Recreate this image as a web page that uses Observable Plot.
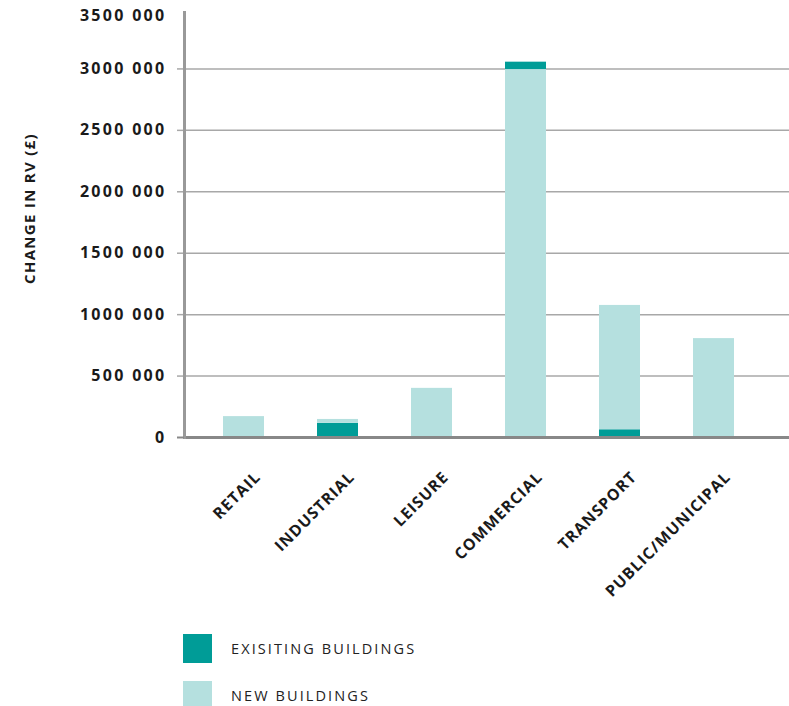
<!DOCTYPE html>
<html>
<head>
<meta charset="utf-8">
<script src="https://cdn.jsdelivr.net/npm/d3@7"></script>
<script src="https://cdn.jsdelivr.net/npm/@observablehq/plot@0.6"></script>
<style>
  body { margin: 0; background: #fff; font-family: "Open Sans", sans-serif; }
  #chart svg { display: block; }
  g[aria-label="x-axis tick label"] text { letter-spacing: 1px; }
  g[aria-label="y-axis tick label"] text { letter-spacing: 2.3px; }
  g.ytitle text { letter-spacing: 1.3px; }
  .legend { padding-left: 183px; padding-top: 24px; }
  .row { display: flex; align-items: center; height: 29px; margin-bottom: 18px; }
  .sw { width: 29px; height: 29px; margin-right: 19px; }
  .lab { font-size: 14.5px; letter-spacing: 2.1px; color: #222; }
</style>
</head>
<body>
<div id="chart"></div>
<div class="legend" id="legend"></div>
<script>
const categories = ["RETAIL", "INDUSTRIAL", "LEISURE", "COMMERCIAL", "TRANSPORT", "PUBLIC/MUNICIPAL"];
const existingBuildings = [0, 115000, 0, 60000, 63000, 0];
const newBuildings = [170000, 32000, 400000, 2995000, 1012000, 805000];
const existingOnTop = [false, false, false, true, false, false];
const seriesNames = ["EXISITING BUILDINGS", "NEW BUILDINGS"];
const seriesColors = ["#009C97", "#B5E0DF"];
const yTicks = [0, 500000, 1000000, 1500000, 2000000, 2500000, 3000000];
const yTickLabels = ["0", "500 000", "1000 000", "1500 000", "2000 000", "2500 000", "3000 000"];
const yTopTick = [3500000];
const yTopLabel = "3500 000";
const gridTicks = [500000, 1000000, 1500000, 2000000, 2500000, 3000000];
const yTitle = "CHANGE IN RV (£)";

const data = [];
categories.forEach((c, i) => {
  const ex = {category: c, series: seriesNames[0], value: existingBuildings[i]};
  const nw = {category: c, series: seriesNames[1], value: newBuildings[i]};
  if (existingOnTop[i]) data.push(nw, ex); else data.push(ex, nw);
});

const tickStyle = {tickSize: 0, tickPadding: 18, fontSize: 16, fontWeight: "bold", label: null};

const chart = Plot.plot({
  width: 789,
  height: 610,
  marginLeft: 184,
  marginRight: 0,
  marginTop: 7,
  marginBottom: 173,
  style: {fontFamily: "'Open Sans', sans-serif", color: "#1a1a1a"},
  x: {type: "band", domain: categories, range: [223, 734], paddingInner: 0.564, paddingOuter: 0},
  y: {domain: [0, 3500000]},
  color: {domain: seriesNames, range: seriesColors},
  marks: [
    Plot.ruleY(gridTicks, {stroke: "#a8a8a8", strokeWidth: 1.5}),
    Plot.barY(data, {x: "category", y: "value", fill: "series"}),
    Plot.axisY({ticks: gridTicks, tickSize: 7, tickFormat: () => "", stroke: "#a8a8a8", strokeWidth: 1.5, label: null}),
    Plot.ruleY([0], {stroke: "#888", strokeWidth: 3}),
    Plot.frame({anchor: "left", stroke: "#999", strokeWidth: 3, insetTop: 5}),
    Plot.axisY({ticks: [0], tickSize: 7, tickFormat: () => "", stroke: "#888", strokeWidth: 2, label: null}),
    Plot.axisY({...tickStyle, ticks: yTicks, tickFormat: (d) => yTickLabels[yTicks.indexOf(d)]}),
    Plot.axisY({...tickStyle, ticks: yTopTick, tickFormat: () => yTopLabel, dy: 8}),
    Plot.axisX({tickSize: 0, tickRotate: -45, tickPadding: 30, dx: 14, dy: 7, fontSize: 15.8, fontWeight: "bold", label: null}),
    Plot.text([yTitle], {frameAnchor: "left", rotate: -90, textAnchor: "middle", dx: -154, dy: -14, fontSize: 15, fontWeight: "bold", fill: "#1a1a1a", className: "ytitle"})
  ]
});
document.getElementById("chart").appendChild(chart);

const legend = document.getElementById("legend");
seriesNames.forEach((name, i) => {
  const row = document.createElement("div");
  row.className = "row";
  const sw = document.createElement("div");
  sw.className = "sw";
  sw.style.background = seriesColors[i];
  const lab = document.createElement("span");
  lab.className = "lab";
  lab.textContent = name;
  row.appendChild(sw);
  row.appendChild(lab);
  legend.appendChild(row);
});
</script>
</body>
</html>
